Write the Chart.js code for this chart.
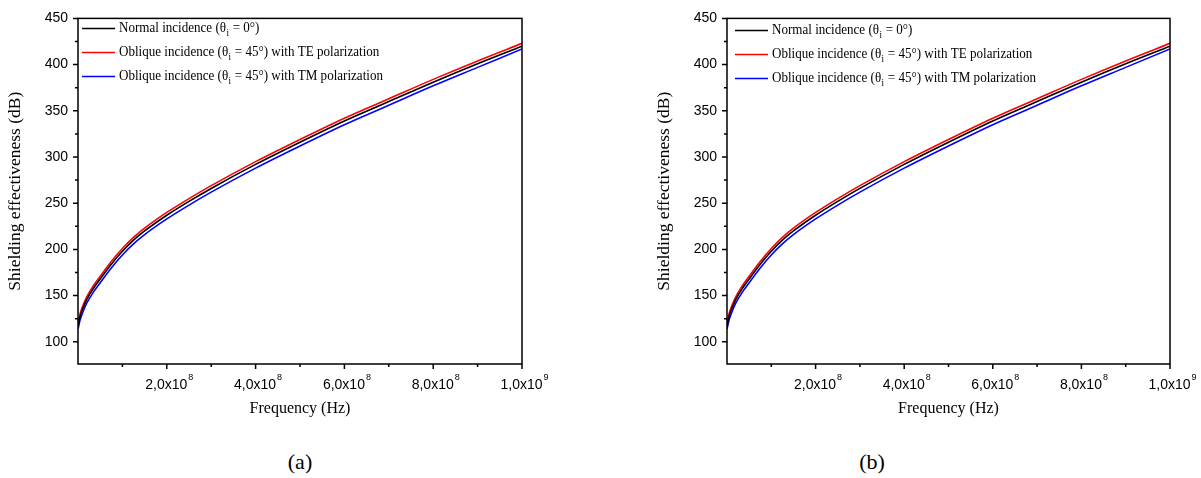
<!DOCTYPE html>
<html>
<head>
<meta charset="utf-8">
<script src="https://cdn.jsdelivr.net/npm/chart.js@4.4.1/dist/chart.umd.min.js"></script>
<style>
  html, body { margin: 0; padding: 0; background: #fff; }
  #wrap { position: relative; width: 1201px; height: 478px; overflow: hidden; }
  canvas { position: absolute; top: 0; }
  .cap { position: absolute; font-family: "Liberation Serif", serif; font-size: 22px; color: #000; transform: translate(-50%, -50%); }
</style>
</head>
<body>
<div id="wrap">
  <canvas id="chartA" width="600" height="430" style="left:0"></canvas>
  <canvas id="chartB" width="601" height="430" style="left:600px"></canvas>
  <div class="cap" style="left:300px; top:462px">(a)</div>
  <div class="cap" style="left:872px; top:462px">(b)</div>
</div>
<script>
// frequencies (Hz) and shielding effectiveness (dB)
const freqs = [0, 0.05e8, 0.1e8, 0.2e8, 0.35e8, 0.5e8, 0.75e8, 1e8, 1.25e8, 1.5e8, 2e8, 2.5e8, 3e8, 4e8, 5e8, 6e8, 7e8, 8e8, 9e8, 1e9];
const seNormal = [117, 128, 135, 146, 158, 168, 184, 198, 210, 220, 237, 252, 266, 292, 316, 339, 360, 381, 401, 420];
const seTE     = [120, 131, 138, 149, 161, 171, 187, 201, 213, 223, 240, 255, 269, 295, 319, 342, 363, 384, 404, 423];
const seTM     = [114, 124, 131, 142, 154, 164, 180, 194, 206, 216, 233, 248, 262, 288, 312, 335, 356, 377, 397, 417];

const seriesLabels = [
  'Normal incidence (θ_i = 0°)',
  'Oblique incidence (θ_i = 45°) with TE polarization',
  'Oblique incidence (θ_i = 45°) with TM polarization'
];
const seriesColors = ['#000000', '#ff0000', '#0000ff'];

const yTicks = [100, 150, 200, 250, 300, 350, 400, 450];
const yMinorTicks = [125, 175, 225, 275, 325, 375, 425];
const xTicks = [2e8, 4e8, 6e8, 8e8, 1e9];
const xTickLabels = ['2,0x10^8', '4,0x10^8', '6,0x10^8', '8,0x10^8', '1,0x10^9'];
const xMinorTicks = [1e8, 3e8, 5e8, 7e8, 9e8];

// draws the box, major/minor ticks and the x labels with superscripts
const framePlugin = {
  id: 'frame',
  afterDatasetsDraw(chart) {
    const { ctx, chartArea: a, scales: { x, y } } = chart;
    ctx.save();
    ctx.strokeStyle = '#000';
    ctx.lineWidth = 1.5;
    ctx.strokeRect(a.left, a.top, a.right - a.left, a.bottom - a.top);
    ctx.beginPath();
    yTicks.forEach(v => { const p = y.getPixelForValue(v); ctx.moveTo(a.left, p); ctx.lineTo(a.left - 5, p); });
    yMinorTicks.forEach(v => { const p = y.getPixelForValue(v); ctx.moveTo(a.left, p); ctx.lineTo(a.left - 3, p); });
    xTicks.forEach(v => { const p = x.getPixelForValue(v); ctx.moveTo(p, a.bottom); ctx.lineTo(p, a.bottom + 5); });
    xMinorTicks.forEach(v => { const p = x.getPixelForValue(v); ctx.moveTo(p, a.bottom); ctx.lineTo(p, a.bottom + 3); });
    ctx.stroke();

    ctx.fillStyle = '#000';
    ctx.textBaseline = 'middle';
    xTicks.forEach((v, i) => {
      const [base, exp] = xTickLabels[i].split('^');
      ctx.font = '14px "Liberation Sans"';
      const wb = ctx.measureText(base).width;
      ctx.font = '9px "Liberation Sans"';
      const we = ctx.measureText(exp).width;
      const left = x.getPixelForValue(v) - (wb + we) / 2 + 2;
      const cy = a.bottom + 21;
      ctx.textAlign = 'left';
      ctx.font = '14px "Liberation Sans"';
      ctx.fillText(base, left, cy);
      ctx.font = '9px "Liberation Sans"';
      ctx.fillText(exp, left + wb + 1, cy - 7);
    });
    ctx.restore();
  }
};

// legend inside the plot, with subscript i (text slightly condensed like the original)
const innerLegend = {
  id: 'innerLegend',
  afterDraw(chart, args, opts) {
    const { ctx, chartArea: a } = chart;
    const sx = 0.9;
    chart.data.datasets.forEach((ds, i) => {
      const ly = a.top + opts.dy + i * 24;
      const lx = a.left + opts.dx;
      ctx.save();
      ctx.strokeStyle = ds.borderColor;
      ctx.lineWidth = 1.5;
      ctx.beginPath();
      ctx.moveTo(lx, ly);
      ctx.lineTo(lx + 33, ly);
      ctx.stroke();
      const [p1, p2] = ds.label.split('_i');
      ctx.translate(lx + 37, ly);
      ctx.scale(sx, 1);
      let tx = 0;
      ctx.fillStyle = '#000';
      ctx.textBaseline = 'middle';
      ctx.textAlign = 'left';
      ctx.font = '14.5px "Liberation Serif"';
      ctx.fillText(p1, tx, 0);
      tx += ctx.measureText(p1).width;
      ctx.font = '10px "Liberation Serif"';
      ctx.fillText('i', tx + 0.5, 5);
      tx += ctx.measureText('i').width + 1;
      ctx.font = '14.5px "Liberation Serif"';
      ctx.fillText(p2, tx, 0);
      ctx.restore();
    });
  }
};

function makeChart(id, pad, legendPos) {
  const values = [seNormal, seTE, seTM];
  const ctx = document.getElementById(id).getContext('2d');
  return new Chart(ctx, {
    type: 'line',
    data: {
      datasets: values.map((vals, i) => ({
        label: seriesLabels[i],
        data: freqs.map((f, j) => ({ x: f, y: vals[j] })),
        borderColor: seriesColors[i],
        borderWidth: 1.6,
        pointRadius: 0,
        fill: false,
        cubicInterpolationMode: 'monotone'
      }))
    },
    options: {
      responsive: false,
      animation: false,
      layout: { padding: pad },
      plugins: {
        legend: { display: false },
        tooltip: { enabled: false },
        innerLegend: legendPos
      },
      scales: {
        x: {
          type: 'linear', min: 0, max: 1e9,
          grid: { display: false, drawTicks: false },
          border: { display: false },
          ticks: { display: false },
          afterBuildTicks: s => { s.ticks = xTicks.map(v => ({ value: v })); },
          afterFit: s => { s.height = 66; },
          title: {
            display: true, text: 'Frequency (Hz)', color: '#000',
            font: { family: 'Liberation Serif', size: 16 },
            padding: { top: 0, bottom: 12 }
          }
        },
        y: {
          type: 'linear', min: 76, max: 450,
          grid: { display: false, drawTicks: false },
          border: { display: false },
          ticks: { color: '#000', padding: 10, font: { family: 'Liberation Sans', size: 14 } },
          afterBuildTicks: s => { s.ticks = yTicks.map(v => ({ value: v })); },
          afterFit: s => { s.width = 78; },
          title: {
            display: true, text: 'Shielding effectiveness (dB)', color: '#000',
            font: { family: 'Liberation Serif', size: 17.5 },
            padding: { top: 5, bottom: 0 }
          }
        }
      }
    },
    plugins: [framePlugin, innerLegend]
  });
}

makeChart('chartA', { left: 0, top: 16, right: 78, bottom: 0 }, { dx: 4, dy: 10 });
makeChart('chartB', { left: 49, top: 17, right: 31, bottom: 0 }, { dx: 8, dy: 12 });
</script>
</body>
</html>
